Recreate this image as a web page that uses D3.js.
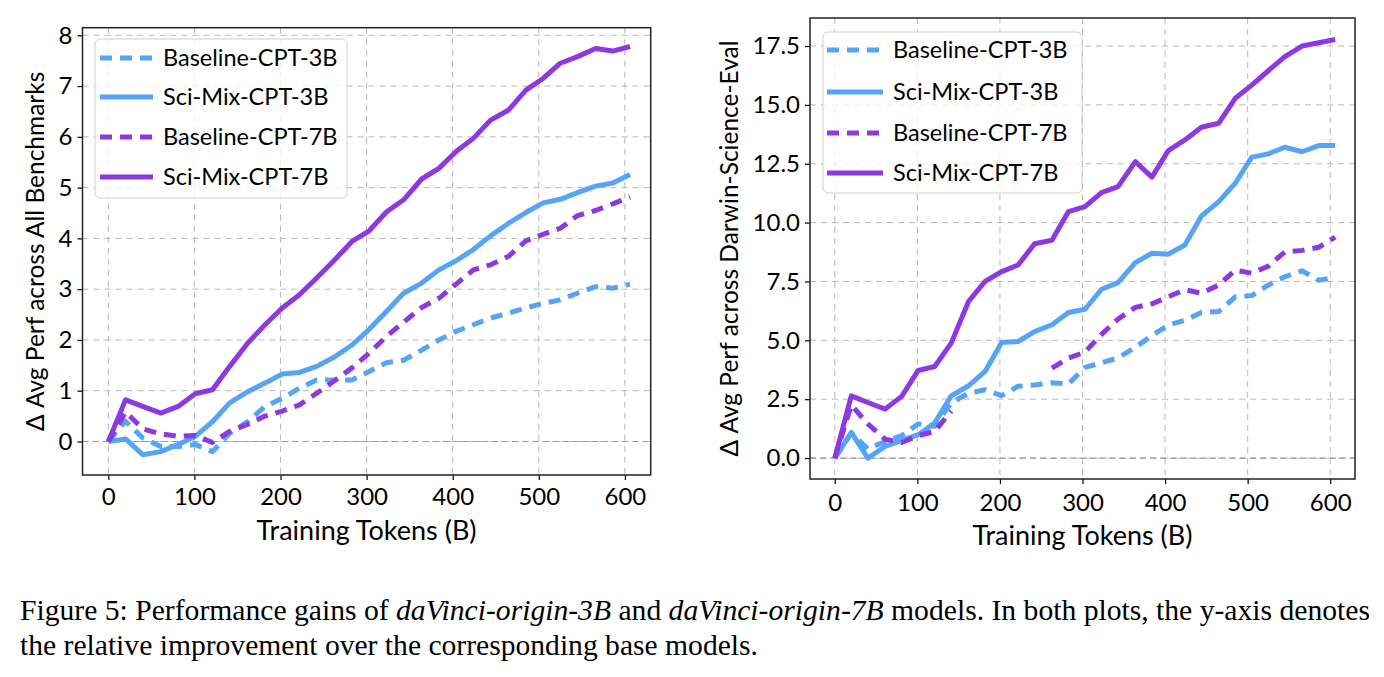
<!DOCTYPE html>
<html>
<head>
<meta charset="utf-8">
<script src="https://cdn.jsdelivr.net/npm/d3@7"></script>
<style>
    body { margin: 0; background: #fff; }
    svg { display: block; }
    .tick text, .lbl, .leg { font-family: Futura, "Century Gothic", Lato, sans-serif; fill: #000; }
    .cap { font-family: "Liberation Serif", "Times New Roman", serif; font-size: 29px; fill: #000; }
</style>
</head>
<body>
<div id="chart"></div>
<script>
// training tokens (B) at each checkpoint
const tokens = [0, 20, 40, 61, 81, 101, 121, 141, 162, 182, 202, 222, 242, 263, 283, 303,
    323, 343, 364, 384, 404, 424, 444, 465, 485, 505, 525, 545, 566, 586, 606];

// left plot: avg over all benchmarks
const allBaseline3B = [0, 0.40, 0.07, -0.10, -0.10, -0.06, -0.20, 0.16, 0.39, 0.69, 0.85, 1.05, 1.21, 1.21, 1.21, 1.38,
    1.55, 1.60, 1.80, 2.00, 2.17, 2.30, 2.43, 2.53, 2.63, 2.72, 2.79, 2.92, 3.05, 3.02, 3.10];
const allSciMix3B = [0, 0.05, -0.26, -0.20, -0.06, 0.10, 0.39, 0.76, 0.98, 1.15, 1.33, 1.36, 1.48, 1.67, 1.90, 2.21,
    2.56, 2.92, 3.12, 3.38, 3.56, 3.78, 4.05, 4.30, 4.51, 4.70, 4.77, 4.90, 5.03, 5.09, 5.26];
const allBaseline7B = [0, 0.58, 0.25, 0.15, 0.10, 0.12, -0.02, 0.20, 0.34, 0.50, 0.60, 0.72, 0.95, 1.20, 1.45, 1.74,
    2.07, 2.35, 2.64, 2.82, 3.10, 3.38, 3.48, 3.65, 3.95, 4.08, 4.20, 4.45, 4.55, 4.68, 4.82];
const allSciMix7B = [0, 0.82, 0.69, 0.56, 0.69, 0.94, 1.02, 1.48, 1.94, 2.30, 2.63, 2.89, 3.22, 3.58, 3.94, 4.15,
    4.52, 4.76, 5.17, 5.38, 5.71, 5.97, 6.33, 6.53, 6.92, 7.15, 7.45, 7.58, 7.74, 7.69, 7.78];

// right plot: avg over Darwin-Science-Eval (null = no checkpoint value)
const dseBaseline3B = [0, 1.05, 0.40, 0.70, 0.95, 1.45, 1.35, 2.35, 2.75, 2.90, 2.65, 3.05, 3.10, 3.20, 3.15, 3.85,
    4.05, 4.25, 4.70, 5.20, 5.65, 5.85, 6.18, 6.22, 6.85, 6.90, 7.35, 7.70, 7.95, 7.55, 7.68];
const dseSciMix3B = [0, 1.09, 0.00, 0.49, 0.75, 0.99, 1.49, 2.64, 3.07, 3.68, 4.91, 4.95, 5.37, 5.66, 6.18, 6.32,
    7.17, 7.45, 8.30, 8.70, 8.66, 9.05, 10.28, 10.89, 11.67, 12.78, 12.92, 13.20, 13.01, 13.27, 13.27];
const dseBaseline7B = [0, 2.25, 1.45, 0.80, 0.66, 0.95, 1.13, 2.00, null, null, null, null, null, 3.82, 4.25, 4.50,
    5.25, 5.90, 6.40, 6.55, 6.85, 7.15, 7.00, 7.35, 7.98, 7.85, 8.15, 8.75, 8.82, 8.95, 9.38];
const dseSciMix7B = [0, 2.64, 2.36, 2.08, 2.62, 3.72, 3.89, 4.88, 6.65, 7.50, 7.92, 8.20, 9.10, 9.25, 10.47, 10.68,
    11.27, 11.53, 12.59, 11.93, 13.06, 13.51, 14.05, 14.22, 15.28, 15.84, 16.45, 17.05, 17.50, 17.64, 17.78];

const seriesNames = ["Baseline-CPT-3B", "Sci-Mix-CPT-3B", "Baseline-CPT-7B", "Sci-Mix-CPT-7B"];
const xTicks = [0, 100, 200, 300, 400, 500, 600];
const leftYTicks = [0, 1, 2, 3, 4, 5, 6, 7, 8];
const rightYTicks = [0, 2.5, 5, 7.5, 10, 12.5, 15, 17.5];

const BLUE = "#55a4f8";
const PURPLE = "#8d38e4";
const styles = [
    { color: BLUE, dash: "12,8" },
    { color: BLUE, dash: null },
    { color: PURPLE, dash: "12,8" },
    { color: PURPLE, dash: null }
];

const W = 1384, H = 677;
const svg = d3.select("#chart").append("svg")
    .attr("width", W)
    .attr("height", H);
svg.append("rect").attr("width", W).attr("height", H).attr("fill", "#fff");

function drawPanel(p) {
    const x = d3.scaleLinear().domain([-30, 630]).range([p.left, p.right]);
    const y = d3.scaleLinear().domain(p.yDomain).range([p.bottom, p.top]);
    const g = svg.append("g");

    // grid
    g.selectAll(".vg").data(xTicks).enter().append("line")
        .attr("x1", d => x(d)).attr("x2", d => x(d))
        .attr("y1", p.top).attr("y2", p.bottom)
        .attr("stroke", "#b8b8b8").attr("stroke-width", 1).attr("stroke-dasharray", "6,5");
    g.selectAll(".hg").data(p.yTicks).enter().append("line")
        .attr("x1", p.left).attr("x2", p.right)
        .attr("y1", d => y(d)).attr("y2", d => y(d))
        .attr("stroke", "#b8b8b8").attr("stroke-width", 1).attr("stroke-dasharray", "6,5");
    // zero reference line
    g.append("line")
        .attr("x1", p.left).attr("x2", p.right)
        .attr("y1", y(0)).attr("y2", y(0))
        .attr("stroke", "#999").attr("stroke-width", 1.2).attr("stroke-dasharray", "6,4");

    const line = d3.line()
        .defined(d => d[1] !== null)
        .x(d => x(d[0]))
        .y(d => y(d[1]));

    p.series.forEach(function (vals, i) {
        g.append("path")
            .datum(tokens.map((t, j) => [t, vals[j]]))
            .attr("d", line)
            .attr("fill", "none")
            .attr("stroke", styles[i].color)
            .attr("stroke-width", 5)
            .attr("stroke-linejoin", "round")
            .attr("stroke-dasharray", styles[i].dash);
    });

    // axes
    const xAxis = g.append("g")
        .attr("transform", "translate(0," + p.bottom + ")")
        .call(d3.axisBottom(x).tickValues(xTicks).tickSize(5).tickPadding(p.xPad));
    const yAxis = g.append("g")
        .attr("transform", "translate(" + p.left + ",0)")
        .call(d3.axisLeft(y).tickValues(p.yTicks).tickFormat(p.fmt).tickSize(5).tickPadding(5));
    [xAxis, yAxis].forEach(function (a) {
        a.select(".domain").remove();
        a.selectAll(".tick line").attr("stroke", "#000").attr("stroke-width", 1.2);
        a.selectAll(".tick text").style("font-size", "24px");
    });

    // frame
    g.append("rect")
        .attr("x", p.left).attr("y", p.top)
        .attr("width", p.right - p.left).attr("height", p.bottom - p.top)
        .attr("fill", "none").attr("stroke", "#222").attr("stroke-width", 1.5);

    g.append("text").attr("class", "lbl")
        .attr("x", (p.left + p.right) / 2).attr("y", p.xLabelY)
        .attr("text-anchor", "middle")
        .style("font-size", "27px")
        .text("Training Tokens (B)");
    g.append("text").attr("class", "lbl")
        .attr("transform", "translate(" + p.yLabelX + "," + ((p.top + p.bottom) / 2) + ") rotate(-90)")
        .attr("text-anchor", "middle")
        .style("font-size", "24.5px")
        .text(p.yLabel);

    // legend
    const L = p.legend;
    g.append("rect")
        .attr("x", L.x).attr("y", L.y).attr("width", L.w).attr("height", L.h)
        .attr("rx", 5)
        .attr("fill", "#fff").attr("fill-opacity", 0.8)
        .attr("stroke", "#d0d0d0").attr("stroke-width", 1);
    seriesNames.forEach(function (name, i) {
        const ry = L.rows[i];
        g.append("line")
            .attr("x1", L.lx0).attr("x2", L.lx1)
            .attr("y1", ry).attr("y2", ry)
            .attr("stroke", styles[i].color)
            .attr("stroke-width", 5)
            .attr("stroke-dasharray", styles[i].dash);
        g.append("text").attr("class", "leg")
            .attr("x", L.tx).attr("y", ry)
            .attr("dy", "0.35em")
            .style("font-size", "23.5px")
            .text(name);
    });
}

drawPanel({
    left: 82.5, right: 650.7, top: 27.7, bottom: 475,
    yDomain: [-0.66, 8.15], yTicks: leftYTicks, fmt: d3.format("d"),
    series: [allBaseline3B, allSciMix3B, allBaseline7B, allSciMix7B],
    yLabel: "\u0394 Avg Perf across All Benchmarks", yLabelX: 44,
    xLabelY: 540, xPad: 8,
    legend: { x: 95, y: 39, w: 252, h: 159, rows: [58, 97, 137, 177], lx0: 100, lx1: 153, tx: 163 }
});

drawPanel({
    left: 810, right: 1355, top: 18, bottom: 479,
    yDomain: [-0.89, 18.69], yTicks: rightYTicks, fmt: d3.format(".1f"),
    series: [dseBaseline3B, dseSciMix3B, dseBaseline7B, dseSciMix7B],
    yLabel: "\u0394 Avg Perf across Darwin-Science-Eval", yLabelX: 738,
    xLabelY: 545, xPad: 10,
    legend: { x: 823, y: 32, w: 259, h: 161, rows: [50, 92, 133, 173], lx0: 827, lx1: 883, tx: 893 }
});

// caption
const cap1 = svg.append("text").attr("class", "cap")
    .attr("x", 20).attr("y", 620)
    .attr("textLength", 1350).attr("lengthAdjust", "spacingAndGlyphs");
cap1.append("tspan").text("Figure 5: Performance gains of ");
cap1.append("tspan").style("font-style", "italic").text("daVinci-origin-3B");
cap1.append("tspan").text(" and ");
cap1.append("tspan").style("font-style", "italic").text("daVinci-origin-7B");
cap1.append("tspan").text(" models. In both plots, the y-axis denotes");
svg.append("text").attr("class", "cap")
    .attr("x", 20).attr("y", 655)
    .attr("textLength", 738).attr("lengthAdjust", "spacingAndGlyphs")
    .text("the relative improvement over the corresponding base models.");
</script>
</body>
</html>
